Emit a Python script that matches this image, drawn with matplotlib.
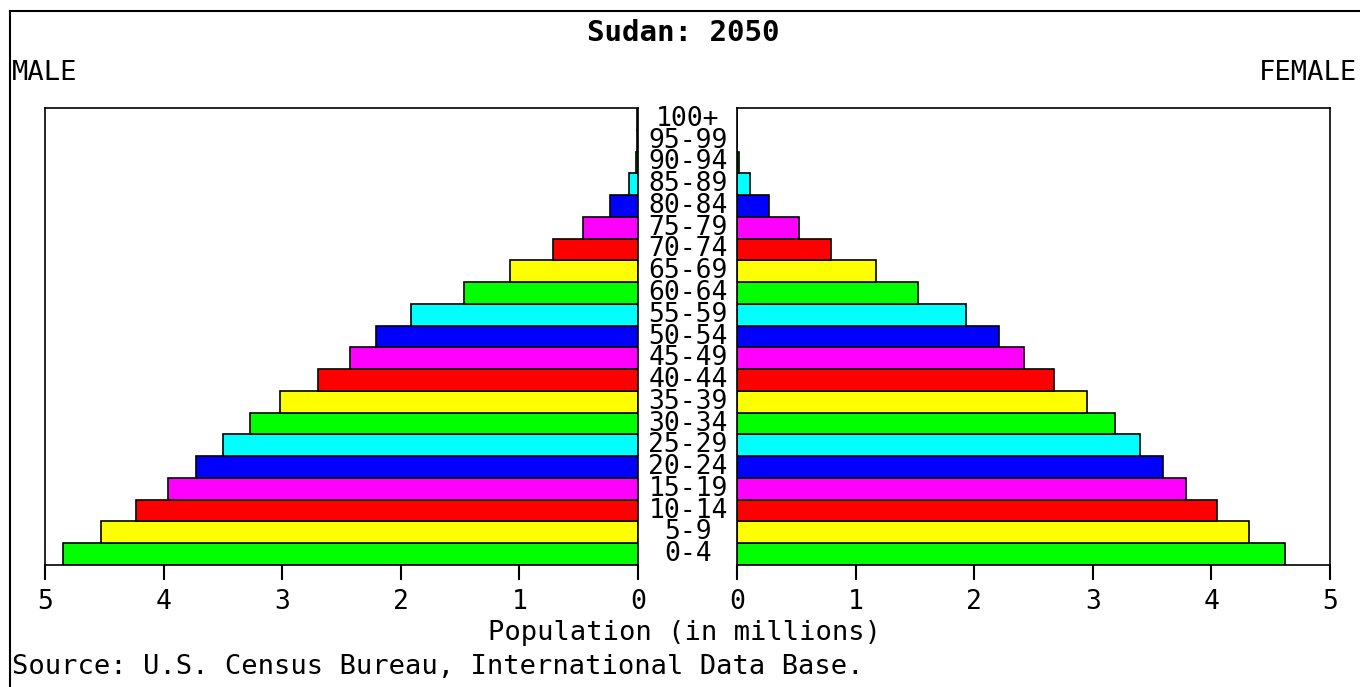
import matplotlib
matplotlib.use("Agg")
import matplotlib.pyplot as plt
from matplotlib.lines import Line2D

# age groups, bottom to top
ages = ["0-4", "5-9", "10-14", "15-19", "20-24", "25-29", "30-34", "35-39",
        "40-44", "45-49", "50-54", "55-59", "60-64", "65-69", "70-74",
        "75-79", "80-84", "85-89", "90-94", "95-99", "100+"]
# population in millions
male = [4.85, 4.53, 4.23, 3.96, 3.73, 3.50, 3.27, 3.02, 2.70, 2.43, 2.21,
        1.91, 1.47, 1.08, 0.72, 0.46, 0.24, 0.08, 0.02, 0.01, 0.01]
female = [4.62, 4.32, 4.05, 3.79, 3.59, 3.40, 3.19, 2.95, 2.67, 2.42, 2.21,
          1.93, 1.53, 1.17, 0.79, 0.52, 0.27, 0.11, 0.02, 0.0, 0.0]
palette = ["#00ff00", "#ffff00", "#ff0000", "#ff00ff", "#0000ff", "#00ffff"]
ticks = [0, 1, 2, 3, 4, 5]

font = "DejaVu Sans Mono"
colors = [palette[i % len(palette)] for i in range(len(ages))]
ypos = list(range(len(ages)))

W, H = 1360, 687
fig = plt.figure(figsize=(W / 100, H / 100), dpi=100)

def box(x0, x1, y0, y1):
    return [x0 / W, 1 - y1 / H, (x1 - x0) / W, (y1 - y0) / H]

axL = fig.add_axes(box(45, 638, 108, 565))
axR = fig.add_axes(box(737, 1330, 108, 565))

axL.barh(ypos, male, height=1.0, color=colors, edgecolor="black", linewidth=1.2)
axR.barh(ypos, female, height=1.0, color=colors, edgecolor="black", linewidth=1.2)

axL.set_xlim(5, 0)
axR.set_xlim(0, 5)
for ax in (axL, axR):
    ax.set_ylim(-0.5, len(ages) - 0.5)
    ax.set_yticks([])
    ax.set_xticks(ticks)
    ax.set_xticklabels([str(t) for t in ticks], fontfamily=font, fontsize=19)
    ax.tick_params(axis="x", direction="out", length=11, width=1.5, pad=6)
    for s in ax.spines.values():
        s.set_linewidth(1.2)

# age labels between the halves
for y, lab in zip(ypos, ages):
    axL.annotate(lab, xy=(0, y), xycoords="data", xytext=(50, 0),
                 textcoords="offset pixels", ha="center", va="center",
                 fontfamily=font, fontsize=19, annotation_clip=False)

fig.text(683 / W, 1 - 33 / H, "Sudan: 2050", ha="center", va="center",
         fontfamily=font, fontsize=21, fontweight="bold")
fig.text(12 / W, 1 - 73 / H, "MALE", ha="left", va="center",
         fontfamily=font, fontsize=19.5)
fig.text(1357 / W, 1 - 73 / H, "FEMALE", ha="right", va="center",
         fontfamily=font, fontsize=19.5)
fig.text(685 / W, 1 - 633 / H, "Population (in millions)", ha="center",
         va="center", fontfamily=font, fontsize=19.5)
fig.text(12 / W, 1 - 667 / H, "Source: U.S. Census Bureau, International Data Base.",
         ha="left", va="center", fontfamily=font, fontsize=19.5)

# outer frame (top and left edges)
fig.add_artist(Line2D([10 / W, 1], [1 - 11 / H, 1 - 11 / H], color="black", lw=1.5))
fig.add_artist(Line2D([10 / W, 10 / W], [0, 1 - 11 / H], color="black", lw=1.5))

fig.savefig("out.png", dpi=100, facecolor="white")
